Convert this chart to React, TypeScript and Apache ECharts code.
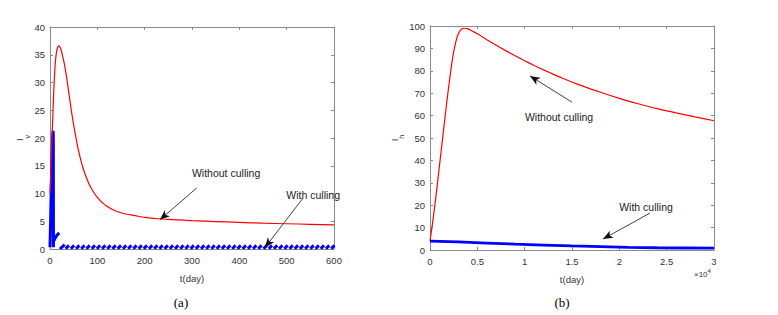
import React, { useEffect, useRef } from "react";
import * as echarts from "echarts";

// ---------- Panel (a): I_v ----------
const redATimes = [0, 2, 4, 6, 8, 10, 12, 14, 16, 18, 20, 23, 26, 30, 35, 40, 45, 50, 55, 60, 70, 80, 90, 100, 110, 120, 140, 160, 180, 200, 230, 260, 300, 350, 400, 450, 500, 550, 600];
const redAValues = [10, 14.5, 19.5, 24, 28.5, 32, 34.3, 35.6, 36.3, 36.6, 36.5, 36, 35, 33.5, 31, 28, 25, 22.3, 20, 17.8, 14.5, 12.2, 10.5, 9.3, 8.4, 7.7, 6.8, 6.3, 6.0, 5.7, 5.45, 5.3, 5.1, 4.95, 4.8, 4.65, 4.55, 4.45, 4.35];

const spikeATimes = [0, 1.5, 3, 4.5, 5.5, 6.5, 7, 7.3];
const spikeAValues = [0.3, 6, 12.5, 17.5, 20.3, 21.3, 20.5, 0.3];
const dashATimes = [8.5, 11, 14, 17, 19.6];
const dashAValues = [1.5, 2.0, 2.4, 2.7, 2.9];
const firstHatchTimes = [21, 31];
const firstHatchValues = [0.0, 0.8];
const cullTimesA = [33, 44, 55, 66, 77, 88, 99, 110, 121, 132, 143, 154, 165, 176, 187, 198, 209, 220, 231, 242, 253, 264, 275, 286, 297, 308, 319, 330, 341, 352, 363, 374, 385, 396, 407, 418, 429, 440, 451, 462, 473, 484, 495, 506, 517, 528, 539, 550, 561, 572, 583, 594];
const hatchRiseDays = 7;
const hatchLow = 0.05;
const hatchHigh = 0.65;

const yTicksA = { min: 0, max: 40, interval: 5 };
const xTicksA = { min: 0, max: 600, interval: 100 };

// ---------- Panel (b): I_h ----------
const redBTimes = [0, 300, 600, 900, 1200, 1500, 1800, 2100, 2400, 2700, 3000, 3300, 3600, 4000, 5000, 6000, 7000, 8000, 9000, 10000, 11000, 12000, 13000, 14000, 16000, 18000, 20000, 22000, 24000, 26000, 28000, 30000];
const redBValues = [4, 13, 23, 34, 45, 56, 67, 77, 86, 92.5, 96.5, 98.5, 99, 98.7, 96.5, 93.9, 91.4, 89.0, 86.7, 84.5, 82.4, 80.4, 78.5, 76.7, 73.4, 70.4, 67.7, 65.3, 63.1, 61.2, 59.4, 57.7];
const blueBTimes = [0, 3000, 6000, 9000, 12000, 15000, 18000, 21000, 24000, 27000, 30000];
const blueBValues = [4, 3.6, 3.1, 2.6, 2.2, 1.8, 1.5, 1.2, 1.0, 0.9, 0.8];

const yTicksB = { min: 0, max: 100, interval: 10 };
const xTicksB = { min: 0, max: 30000, interval: 5000 };

const zip = (t: number[], v: number[]) => t.map((x, i) => [x, v[i]]);

const AXIS = "#8a8a8a";
const TEXT = "#333333";
const FONT = "Liberation Sans, Arial, sans-serif";

function buildBlueA() {
  const out: any[] = [];
  out.push(...zip(spikeATimes, spikeAValues), null);
  out.push(...zip(dashATimes, dashAValues), null);
  out.push(...zip(firstHatchTimes, firstHatchValues), null);
  cullTimesA.forEach((t) => {
    out.push([t, hatchLow], [t + hatchRiseDays, hatchHigh], null);
  });
  return out;
}

function arrow(from: number[], to: number[]) {
  return [
    { coord: from, symbol: "none" },
    { coord: to, symbol: "arrow" },
  ];
}

export default function App() {
  const ref = useRef<HTMLDivElement>(null);
  useEffect(() => {
    if (!ref.current) return;
    const chart = echarts.init(ref.current, null, { renderer: "svg" });

    const baseX = (grid: number, t: any, bottom: boolean, fmt?: (v: number) => string) => ({
      type: "value",
      gridIndex: grid,
      position: bottom ? "bottom" : "top",
      min: t.min,
      max: t.max,
      interval: t.interval,
      axisLine: { show: true, onZero: false, lineStyle: { color: AXIS, width: 1 } },
      axisTick: { show: true, inside: true, length: 3, lineStyle: { color: AXIS } },
      axisLabel: {
        show: bottom,
        color: TEXT,
        fontSize: 9.5,
        fontFamily: FONT,
        margin: 6,
        formatter: fmt,
      },
      splitLine: { show: false },
      name: bottom ? "t(day)" : "",
      nameLocation: "middle",
      nameGap: 24,
      nameTextStyle: { color: TEXT, fontSize: 9.5, fontFamily: FONT },
    });
    const baseY = (grid: number, t: any, left: boolean, sub: string) => ({
      type: "value",
      gridIndex: grid,
      position: left ? "left" : "right",
      min: t.min,
      max: t.max,
      interval: t.interval,
      axisLine: { show: true, onZero: false, lineStyle: { color: AXIS, width: 1 } },
      axisTick: { show: true, inside: true, length: 3, lineStyle: { color: AXIS } },
      axisLabel: { show: left, color: TEXT, fontSize: 9.5, fontFamily: FONT, margin: 5 },
      splitLine: { show: false },
      name: left ? "{m|I}{s|" + sub + "}" : "",
      nameLocation: "middle",
      nameRotate: 90,
      nameGap: left ? 17 : 0,
      nameTextStyle: {
        color: TEXT,
        fontFamily: FONT,
        rich: {
          m: { fontSize: 9.5, color: TEXT, fontFamily: FONT, lineHeight: 14, verticalAlign: "bottom" },
          s: { fontSize: 7, color: TEXT, fontFamily: FONT, lineHeight: 14, verticalAlign: "bottom", padding: [0, 0, -6, 0] },
        },
      },
    });

    const labelPoint = (name: string, coord: number[]) => ({
      name,
      coord,
      symbol: "circle",
      symbolSize: 0,
      label: {
        show: true,
        formatter: name,
        position: "inside",
        color: "#222",
        fontSize: 10.5,
        fontFamily: FONT,
      },
    });

    const arrowStyle = { color: "#111", width: 0.8, type: "solid" };

    chart.setOption({
      animation: false,
      backgroundColor: "#fff",
      grid: [
        { left: 50, top: 27, width: 284, height: 222, containLabel: false },
        { left: 430, top: 26, width: 284, height: 224, containLabel: false },
      ],
      xAxis: [
        baseX(0, xTicksA, true),
        baseX(0, xTicksA, false),
        baseX(1, xTicksB, true, (v: number) => String(v / 10000)),
        baseX(1, xTicksB, false),
      ],
      yAxis: [baseY(0, yTicksA, true, "v"), baseY(0, yTicksA, false, ""), baseY(1, yTicksB, true, "h"), baseY(1, yTicksB, false, "")],
      series: [
        {
          type: "line",
          xAxisIndex: 0,
          yAxisIndex: 0,
          data: zip(redATimes, redAValues),
          showSymbol: false,
          smooth: 0.3,
          lineStyle: { color: "#ff0000", width: 1.2 },
          z: 3,
          markLine: {
            silent: true,
            symbolSize: [6, 10],
            lineStyle: arrowStyle,
            label: { show: false },
            data: [arrow([310, 11], [232, 5.25]), arrow([534, 9.1], [454, 0.25])],
          },
          markPoint: {
            silent: true,
            data: [labelPoint("Without culling", [372, 13.7]), labelPoint("With culling", [556, 9.7])],
          },
        },
        {
          type: "line",
          xAxisIndex: 0,
          yAxisIndex: 0,
          data: buildBlueA(),
          connectNulls: false,
          showSymbol: false,
          lineStyle: { color: "#0000ff", width: 3 },
          z: 2,
        },
        {
          type: "line",
          xAxisIndex: 2,
          yAxisIndex: 2,
          data: zip(redBTimes, redBValues),
          showSymbol: false,
          smooth: 0.25,
          lineStyle: { color: "#ff0000", width: 1.2 },
          markLine: {
            silent: true,
            symbolSize: [6, 10],
            lineStyle: arrowStyle,
            label: { show: false },
            data: [arrow([15000, 66], [10560, 77.7]), arrow([23240, 16.5], [18275, 4.9])],
          },
          markPoint: {
            silent: true,
            data: [labelPoint("Without culling", [13630, 59.4]), labelPoint("With culling", [22820, 19.2])],
          },
        },
        {
          type: "line",
          xAxisIndex: 2,
          yAxisIndex: 2,
          data: zip(blueBTimes, blueBValues),
          showSymbol: false,
          lineStyle: { color: "#0000ff", width: 2.8 },
        },
      ],
      graphic: [
        {
          type: "text",
          left: 694,
          top: 268,
          style: {
            text: "{a|×10}{b|4}",
            rich: {
              a: { fontSize: 8, fill: TEXT, fontFamily: FONT, verticalAlign: "bottom", lineHeight: 10 },
              b: { fontSize: 6, fill: TEXT, fontFamily: FONT, verticalAlign: "top", lineHeight: 10 },
            },
          },
        },
        {
          type: "text",
          x: 181,
          y: 302,
          style: { text: "(a)", fontSize: 13, fill: "#000", fontFamily: "Liberation Serif, Times New Roman, serif", align: "center", verticalAlign: "middle" },
        },
        {
          type: "text",
          x: 562,
          y: 302,
          style: { text: "(b)", fontSize: 13, fill: "#000", fontFamily: "Liberation Serif, Times New Roman, serif", align: "center", verticalAlign: "middle" },
        },
      ],
    });
    return () => chart.dispose();
  }, []);
  return <div ref={ref} style={{ position: "absolute", left: 0, top: 0, width: 778, height: 315, background: "#fff" }} />;
}
